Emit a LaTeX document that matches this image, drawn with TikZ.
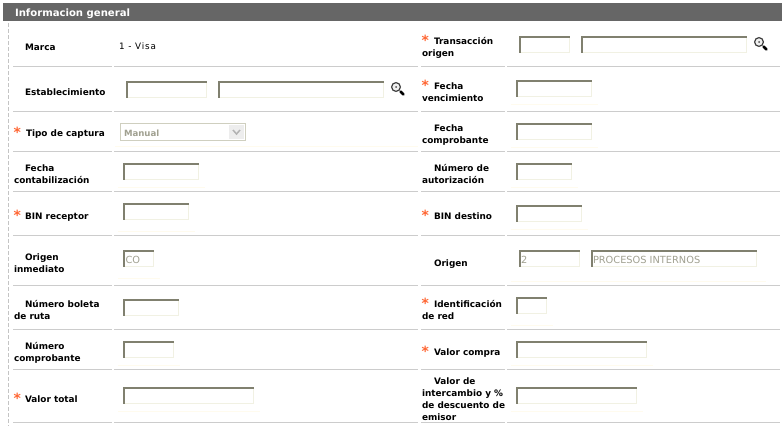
\documentclass[tikz,border=0pt]{standalone}
\usepackage{fontspec}
\setmainfont{DejaVu Sans}
\definecolor{hdr}{HTML}{666666}
\definecolor{rule}{HTML}{CCCCCC}
\definecolor{dashc}{HTML}{C4C4C4}
\definecolor{star}{HTML}{FF6633}
\definecolor{faint}{HTML}{FFFBEE}
\definecolor{bdark}{HTML}{80806F}
\definecolor{blight}{HTML}{F1F1E3}
\definecolor{gtext}{HTML}{A0A090}
\definecolor{sel}{HTML}{CFCFBF}
\tikzset{
  x=1pt,y=-1pt,
  lab/.style={anchor=base west,inner sep=0pt,outer sep=0pt,font=\fontsize{8.9}{10}\selectfont\bfseries,text=black},
  val/.style={anchor=base west,inner sep=0pt,outer sep=0pt,font=\fontsize{8.8}{10}\selectfont\addfontfeature{LetterSpace=10},text=black},
  ghost/.style={anchor=base west,inner sep=0pt,outer sep=0pt,font=\fontsize{9.8}{10}\selectfont,text=gtext},
  ghostb/.style={anchor=base west,inner sep=0pt,outer sep=0pt,font=\fontsize{8.6}{10}\selectfont\bfseries,text=gtext},
  asterisk/.style={anchor=base west,inner sep=0pt,outer sep=0pt,font=\fontsize{14}{14}\selectfont\bfseries,text=star},
  hrule/.style={draw=rule,line width=1pt},
  fline/.style={draw=faint,line width=1pt},
}
\newcommand{\inbox}[4]{%
  \draw[blight,line width=1pt] (#3-.5,#2+.5) -- (#3-.5,#4-.5) -- (#1+.5,#4-.5);
  \draw[bdark,line width=1.5pt] (#1+.75,#4-.5) -- (#1+.75,#2+.75) -- (#3-.5,#2+.75);
}
\newcommand{\hr}[1]{%
  \draw[hrule] (13,#1) -- (112,#1);
  \draw[hrule] (114,#1) -- (418,#1);
  \draw[hrule] (421,#1) -- (505,#1);
  \draw[hrule] (507,#1) -- (780,#1);
}
\newcommand{\lens}[2]{%
  \draw[black!75,line width=1.2pt,fill=black!6] (#1-2,#2-2) circle (4.4);
  \fill[black!70] (#1-2,#2-2) circle (1);
  \draw[black,line width=2.5pt,line cap=round] (#1+2.5,#2+2.5) -- (#1+5.5,#2+5.5);
}
\begin{document}
\begin{tikzpicture}
\useasboundingbox (0,0) rectangle (783,426);
\fill[white] (0,0) rectangle (783,426);
\fill[hdr] (3,3) rectangle (782,21);
\node[lab,text=white,font=\fontsize{10.1}{10}\selectfont\bfseries] (title) at (15,16) {Informacion general};
\draw[dashc,line width=1pt,dash pattern=on 4pt off 2pt] (8.5,23) -- (8.5,426);
\foreach \y in {66.5,111.5,151.5,191.5,235.5,285.5,329.5,369.5,422.5} {\hr{\y}}
% faint lines
\foreach \a/\b/\y in {115/418/146.5,118/205/187.5,118/195/231.5,118/160/278.5,118/180/365.5,118/260/411.5,
  511/598/104.5,511/598/147.5,511/578/187.5,511/588/229.5,511/766/281.5,511/553/325.5,511/653/365.5,511/643/411.5}
  {\draw[fline] (\a,\y) -- (\b,\y);}
% inputs
\inbox{126}{81}{207}{98}
\inbox{218}{81}{384}{98}
\inbox{123}{163}{199}{180}
\inbox{123}{203}{189}{220}
\inbox{123}{250}{154}{267}
\inbox{123}{299}{179}{316}
\inbox{123}{341}{174}{358}
\inbox{123}{387}{254}{404}
\inbox{519}{36}{570}{53}
\inbox{581}{36}{747}{53}
\inbox{516}{80}{592}{97}
\inbox{516}{123}{592}{140}
\inbox{516}{163}{572}{180}
\inbox{516}{205}{582}{222}
\inbox{519}{250}{580}{267}
\inbox{591}{250}{757}{267}
\inbox{516}{297}{547}{314}
\inbox{516}{341}{647}{358}
\inbox{516}{387}{637}{404}
% select
\draw[sel,line width=1pt,fill=white] (120.5,123.5) rectangle (245.5,140.5);
\fill[black!7] (229,125) rectangle (244,139);
\draw[white,line width=1pt] (228.5,124.5) -- (228.5,139.5);
\draw[black!30,line width=1.5pt] (233,130) -- (236.5,134) -- (240,130);
\node[ghostb] (tipoval) at (124,136) {Manual};
\node[ghost] (coval) at (125.5,263) {CO};
\node[ghost] (dosval) at (521,263) {2};
\node[ghost] (procval) at (593,263) {PROCESOS INTERNOS};
% lenses
\lens{398}{89}
\lens{761}{44}
% left labels
\node[lab] (l1) at (25,50) {Marca};
\node[val] (v1) at (119,49) {1 - Visa};
\node[lab] (l2) at (25,95) {Establecimiento};
\node[asterisk] (s3) at (13.5,137.5) {*};
\node[lab] (l3) at (26,136) {Tipo de captura};
\node[lab] (l4a) at (25,171) {Fecha};
\node[lab] (l4b) at (14,183) {contabilización};
\node[asterisk] (s5) at (13.5,220.5) {*};
\node[lab] (l5) at (25,219) {BIN receptor};
\node[lab] (l6a) at (25,260) {Origen};
\node[lab] (l6b) at (14,272) {inmediato};
\node[lab] (l7a) at (25,307) {Número boleta};
\node[lab] (l7b) at (14,319) {de ruta};
\node[lab] (l8a) at (25,349) {Número};
\node[lab] (l8b) at (14,361) {comprobante};
\node[asterisk] (s9) at (13.5,403.5) {*};
\node[lab] (l9) at (25,402) {Valor total};
% right labels
\node[asterisk] (r1s) at (421.5,45) {*};
\node[lab] (r1a) at (434,44) {Transacción};
\node[lab] (r1b) at (422,56) {origen};
\node[asterisk] (r2s) at (421.5,90) {*};
\node[lab] (r2a) at (434,89) {Fecha};
\node[lab] (r2b) at (422,101) {vencimiento};
\node[lab] (r3a) at (434,131) {Fecha};
\node[lab] (r3b) at (422,143) {comprobante};
\node[lab] (r4a) at (434,171) {Número de};
\node[lab] (r4b) at (422,183) {autorización};
\node[asterisk] (r5s) at (421.5,220.5) {*};
\node[lab] (r5) at (434,219) {BIN destino};
\node[lab] (r6) at (434,266) {Origen};
\node[asterisk] (r7s) at (421.5,308) {*};
\node[lab] (r7a) at (434,307) {Identificación};
\node[lab] (r7b) at (422,319) {de red};
\node[asterisk] (r8s) at (421.5,356) {*};
\node[lab] (r8) at (434,355) {Valor compra};
\node[lab] (r9a) at (434,384) {Valor de};
\node[lab] (r9b) at (422,396) {intercambio y \%};
\node[lab] (r9c) at (422,408) {de descuento de};
\node[lab] (r9d) at (422,420) {emisor};
\end{tikzpicture}
\end{document}
